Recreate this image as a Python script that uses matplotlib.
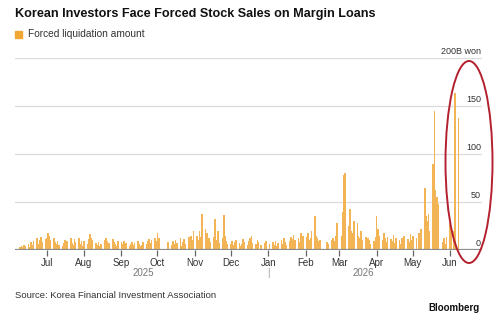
import matplotlib

matplotlib.use("Agg")
import matplotlib.pyplot as plt
from matplotlib.patches import Ellipse
import pandas as pd

plt.rcParams["font.family"] = ["Liberation Sans", "DejaVu Sans"]

# daily forced liquidation amounts, B won, one value per business day
jun25 = [3, 4, 3, 5, 4, 6, 3, 8, 5, 9, 12, 6, 10, 14, 8, 11]
jul25 = [12, 18, 15, 10, 13, 8, 6, 9, 5, 4, 7, 10, 6, 9, 12, 7, 5, 11, 8, 13, 6, 9, 4]
aug25 = [9, 6, 11, 17, 13, 10, 7, 5, 8, 4, 6, 10, 12, 9, 5, 7, 11, 8, 6, 4, 9]
sep25 = [8, 6, 9, 5, 7, 4, 6, 8, 5, 7, 9, 6, 4, 5, 8, 6, 9, 11, 7, 10, 13, 9]
oct25 = [18, 12, 0, 0, 0, 0, 0, 8, 5, 9, 6, 10, 7, 12, 4, 8, 11, 6, 14, 9, 15, 10, 20]
nov25 = [15, 10, 20, 14, 37, 22, 18, 9, 12, 8, 14, 32, 10, 20, 7, 12, 36, 15, 9, 6]
dec25 = [6, 9, 5, 8, 10, 7, 4, 6, 11, 8, 5, 9, 12, 15, 7, 6, 10, 8, 0, 5, 7, 9, 0]
jan26 = [0, 6, 8, 5, 9, 4, 7, 10, 6, 12, 8, 5, 9, 14, 11, 16, 10, 13, 8, 18, 12, 15]
feb26 = [14, 18, 10, 12, 20, 35, 15, 12, 9, 10, 0, 0, 0, 8, 6, 10, 13, 9, 15, 28]
mar26 = [0, 15, 40, 78, 80, 25, 43, 20, 18, 30, 28, 15, 12, 20, 10, 14, 8, 12, 10, 6, 9, 14]
apr26 = [35, 22, 15, 10, 18, 12, 8, 14, 11, 9, 16, 7, 12, 10, 6, 13, 9, 15, 11, 8, 17, 10]
may26 = [15, 12, 0, 18, 10, 22, 65, 35, 30, 38, 20, 90, 145, 62, 55, 48, 0, 8, 12, 6, 14]
jun26 = [28, 18, 0, 20, 164, 138]

months = [("2025-06-09", "2025-06-30", jun25), ("2025-07-01", "2025-07-31", jul25),
          ("2025-08-01", "2025-08-31", aug25), ("2025-09-01", "2025-09-30", sep25),
          ("2025-10-01", "2025-10-31", oct25), ("2025-11-01", "2025-11-30", nov25),
          ("2025-12-01", "2025-12-31", dec25), ("2026-01-01", "2026-01-31", jan26),
          ("2026-02-01", "2026-02-28", feb26), ("2026-03-01", "2026-03-31", mar26),
          ("2026-04-01", "2026-04-30", apr26), ("2026-05-01", "2026-05-31", may26),
          ("2026-06-01", "2026-06-08", jun26)]

month_labels = ["Jul", "Aug", "Sep", "Oct", "Nov", "Dec", "Jan", "Feb", "Mar", "Apr", "May", "Jun"]
y_ticks = [0, 50, 100, 150]

dates, values = [], []
for start, end, vals in months:
    d = pd.bdate_range(start, end)
    assert len(d) == len(vals), (start, len(d), len(vals))
    dates.extend(d)
    values.extend(vals)

BAR = "#f2b454"
W, H = 504, 325
fig = plt.figure(figsize=(W / 100, H / 100), dpi=100)
ax = fig.add_axes([15 / W, 1 - 250 / H, (482 - 15) / W, 192 / H])

ax.bar(dates, values, width=1.4, color=BAR, linewidth=0, zorder=2)
ax.set_xlim(pd.Timestamp("2025-06-04 16:00"), pd.Timestamp("2026-06-27 12:00"))
ax.set_ylim(0, 200)

for v in [50, 100, 150, 200]:
    ax.axhline(v, color="#dcdcdc", lw=0.9, zorder=1)
ax.axhline(0, color="#8c8c8c", lw=1.6, zorder=3)

for s in ax.spines.values():
    s.set_visible(False)
ax.set_yticks([])
ticks = pd.date_range("2025-07-01", "2026-06-01", freq="MS")
ax.set_xticks(ticks)
ax.set_xticklabels(month_labels, fontsize=7, color="#333333")
ax.tick_params(axis="x", length=4, width=0.9, color="#666666", pad=2)

for v in y_ticks:
    ax.text(0.998, v + 2, str(v), transform=ax.get_yaxis_transform(),
            ha="right", va="bottom", fontsize=6.5, color="#333333")
ax.text(0.998, 202, "200B won", transform=ax.get_yaxis_transform(),
        ha="right", va="bottom", fontsize=6.5, color="#333333")

# year row
fig.text(143 / W, 1 - 272.5 / H, "2025", ha="center", va="center", fontsize=7, color="#777777")
fig.text(363 / W, 1 - 272.5 / H, "2026", ha="center", va="center", fontsize=7, color="#777777")
fig.text(268 / W, 1 - 272.5 / H, "|", ha="center", va="center", fontsize=7, color="#999999")

fig.text(15 / W, 1 - 13.5 / H, "Korean Investors Face Forced Stock Sales on Margin Loans",
         ha="left", va="center", fontsize=9.1, fontweight="bold", color="#111111")
fig.patches.append(plt.Rectangle((15 / W, 1 - 37.5 / H), 7 / W, 7 / H,
                                 transform=fig.transFigure, color="#f0a733"))
fig.text(28 / W, 1 - 34 / H, "Forced liquidation amount", ha="left", va="center",
         fontsize=7.3, color="#333333")
fig.text(15 / W, 1 - 295 / H, "Source: Korea Financial Investment Association",
         ha="left", va="center", fontsize=6.8, color="#333333")
fig.text(480 / W, 1 - 308 / H, "Bloomberg", ha="right", va="center",
         fontsize=7, fontweight="bold", color="#111111")

# red ellipse annotation
fig.patches.append(Ellipse((469 / W, 1 - 162 / H), 47 / W, 202 / H,
                           transform=fig.transFigure, fill=False,
                           edgecolor="#b3202e", lw=1.4))

fig.savefig("out.png", dpi=100)
